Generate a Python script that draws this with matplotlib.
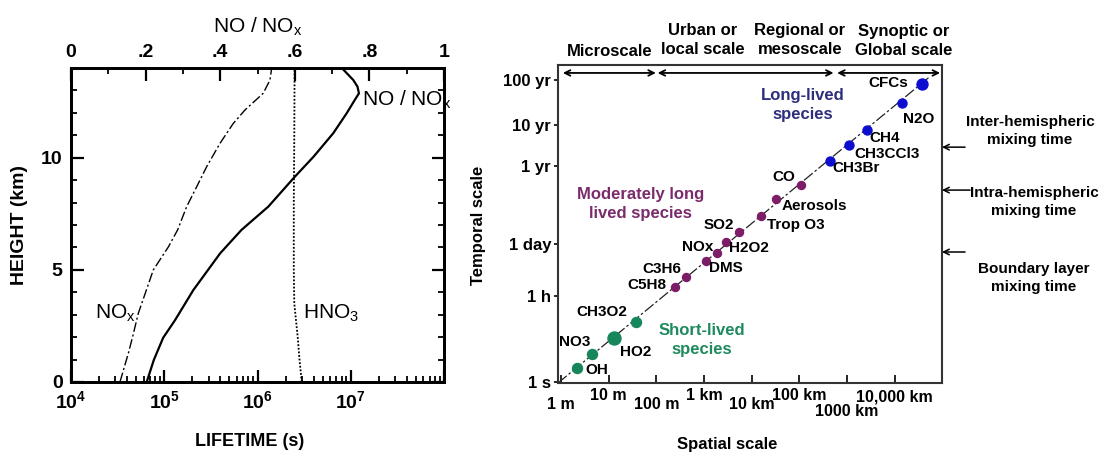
import numpy as np
import matplotlib
matplotlib.use('Agg')
import matplotlib.pyplot as plt
from matplotlib.ticker import FixedLocator, MultipleLocator, LogLocator, NullFormatter, NullLocator

plt.rcParams['font.family'] = ['Liberation Sans', 'DejaVu Sans']
plt.rcParams['font.weight'] = 'bold'
plt.rcParams['mathtext.default'] = 'regular'

# ---------------- left panel data ----------------
nox_height = [0, 1.28, 2.02, 3.06, 5.0, 6.03, 6.78, 7.82, 8.71, 9.6, 10.64, 11.53, 12.13, 12.87, 13.46, 14.0]
nox_lifetime = [3.35e4, 4.12e4, 4.58e4, 5.27e4, 7.64e4, 1.11e5, 1.39e5, 1.74e5, 2.23e5, 2.85e5,
                3.96e5, 5.50e5, 7.35e5, 1.15e6, 1.36e6, 1.42e6]
hno3_height = [0, 1.0, 2.0, 3.5, 5.0, 8.0, 11.0, 14.0]
hno3_lifetime = [2.98e6, 2.82e6, 2.70e6, 2.48e6, 2.45e6, 2.45e6, 2.48e6, 2.50e6]
ratio_height = [0, 0.98, 1.97, 2.76, 4.1, 5.74, 6.78, 7.82, 9.15, 10.04, 11.09, 11.98, 12.58, 12.87, 13.17, 13.46, 14.0]
no_ratio = [0.203, 0.222, 0.247, 0.279, 0.328, 0.40, 0.457, 0.529, 0.600, 0.65, 0.703, 0.739, 0.761,
            0.772, 0.768, 0.757, 0.726]

# ---------------- right panel data ----------------
species = ['OH', 'NO3', 'HO2', 'CH3O2', 'C5H8', 'C3H6', 'DMS', 'NOx', 'H2O2', 'SO2', 'Trop O3',
           'Aerosols', 'CO', 'CH3Br', 'CH3CCl3', 'CH4', 'N2O', 'CFCs']
spatial_m = [2.2, 4.4, 13, 37, 245, 430, 1.1e3, 1.9e3, 2.9e3, 5.4e3, 1.6e4,
             3.3e4, 1.07e5, 4.4e5, 1.1e6, 2.6e6, 1.45e7, 3.8e7]
lifetime_s = [3.7, 14, 64, 294, 6.1e3, 1.17e4, 3.05e4, 4.89e4, 9.8e4, 2.09e5, 7.2e5,
              2.7e6, 7.5e6, 4.27e7, 1.02e8, 2.45e8, 9.9e8, 2.57e9]
group = ['short'] * 4 + ['moderate'] * 9 + ['long'] * 5
marker_px = [10, 10, 13, 10] + [8] * 9 + [9, 9, 9, 9, 11]

time_ticks = [1, 3600, 86400, 3.156e7, 3.156e8, 3.156e9]
time_labels = ['1 s', '1 h', '1 day', '1 yr', '10 yr', '100 yr']
space_ticks = [1, 10, 100, 1e3, 1e4, 1e5, 1e6, 1e7]
space_labels = ['1 m', '10 m', '100 m', '1 km', '10 km', '100 km', '1000 km', '10,000 km']
scale_ranges = [(1.1, 98), (107, 5.2e5), (6.2e5, 8.9e7)]
scale_names = ['Microscale', 'Urban or\nlocal scale', 'Regional or\nmesoscale', 'Synoptic or\nGlobal scale']
mixing_names = ['Inter-hemispheric\nmixing time', 'Intra-hemispheric\nmixing time', 'Boundary layer\nmixing time']
mixing_s = [9.1e7, 5.1e6, 5.3e4]

colors = {'short': '#17865a', 'moderate': '#7d1d67', 'long': '#0d0dd0'}

W, H = 1101, 454
fig = plt.figure(figsize=(W / 100, H / 100), dpi=100)


def fx(px):
    return px / W


def fy(py):
    return 1 - py / H


# ================= left panel =================
ax = fig.add_axes([fx(71), fy(382), fx(444 - 71), (382 - 68) / H])
ax.set_xscale('log')
ax.set_xlim(1e4, 1e8)
ax.set_ylim(0, 14)
ax.plot(nox_lifetime, nox_height, color='black', lw=1.0, ls=(0, (7, 2, 1.5, 2)))
ax.plot(hno3_lifetime, hno3_height, color='black', lw=1.3, ls=(0, (1, 1)))

axt = ax.twiny()
axt.set_xlim(0, 1)
axt.plot(no_ratio, ratio_height, color='black', lw=1.6)

for a in (ax, axt):
    for s in a.spines.values():
        s.set_linewidth(2)

ax.xaxis.set_major_locator(FixedLocator([1e4, 1e5, 1e6, 1e7, 1e8]))
ax.set_xticklabels(['$10^{4}$', '$10^{5}$', '$10^{6}$', '$10^{7}$', ''])
ax.xaxis.set_minor_locator(LogLocator(base=10, subs=np.arange(2, 10)))
ax.xaxis.set_minor_formatter(NullFormatter())
ax.yaxis.set_major_locator(FixedLocator([0, 5, 10]))
ax.yaxis.set_minor_locator(MultipleLocator(1))
ax.tick_params(axis='both', which='major', direction='in', length=9, width=1.6, labelsize=14, pad=6)
ax.tick_params(axis='both', which='minor', direction='in', length=4, width=1.3)
ax.tick_params(axis='y', which='both', right=True)
ax.tick_params(axis='x', which='both', top=False)

axt.set_xticks(np.arange(0, 1.01, 0.2))
axt.set_xticklabels(['0', '.2', '.4', '.6', '.8', '1'])
axt.xaxis.set_minor_locator(MultipleLocator(0.1))
axt.tick_params(axis='x', which='major', direction='in', length=9, width=1.6, labelsize=14, pad=5)
axt.tick_params(axis='x', which='minor', direction='in', length=4, width=1.3)

axt.text(0.78, 12.57, 'NO / NO$_\\mathregular{x}$', fontsize=15, fontweight='normal', ha='left', va='center')
ax.text(10 ** 4.26, 3.08, 'NO$_\\mathregular{x}$', fontsize=15, fontweight='normal', ha='left', va='center')
ax.text(10 ** 6.49, 3.08, 'HNO$_\\mathregular{3}$', fontsize=15, fontweight='normal', ha='left', va='center')

fig.text(fx(258), fy(27), 'NO / NO$_\\mathregular{x}$', fontsize=15, fontweight='normal', ha='center', va='center')
fig.text(fx(250), fy(442), 'LIFETIME (s)', fontsize=13, ha='center', va='center')
fig.text(fx(20), fy(225), 'HEIGHT (km)', fontsize=14, ha='center', va='center', rotation=90)

# ================= right panel =================
ax2 = fig.add_axes([fx(558), fy(383), fx(942 - 558), (383 - 65) / H])

node_log = np.log10(time_ticks)
node_log = np.concatenate([[-2.0], node_log, [11.5]])
node_pos = np.array([-48, 0, 86, 138, 216, 257, 302, 392], dtype=float)


def t_forward(v):
    return np.interp(np.log10(np.clip(v, 1e-6, None)), node_log, node_pos)


def t_inverse(p):
    return 10 ** np.interp(p, node_pos, node_log)


ax2.set_yscale('function', functions=(t_forward, t_inverse))
ax2.set_xscale('log')
ax2.set_xlim(10 ** -0.06, 10 ** 7.99)
ax2.set_ylim(t_inverse(-1), t_inverse(317))

for s in ax2.spines.values():
    s.set_linewidth(1.5)
    s.set_color('#333333')

ax2.yaxis.set_major_locator(FixedLocator(time_ticks))
ax2.yaxis.set_minor_locator(NullLocator())
ax2.set_yticklabels(time_labels)
ax2.xaxis.set_major_locator(FixedLocator(space_ticks))
ax2.xaxis.set_minor_locator(NullLocator())
ax2.set_xticklabels([''] * len(space_ticks))
ax2.tick_params(axis='y', direction='out', length=3, width=1.2, labelsize=12, pad=2)
ax2.tick_params(axis='x', direction='in', length=6, width=1.2)

label_rows = [-0.069, -0.038, -0.069, -0.038, -0.069, -0.040, -0.091, -0.044]
xt = ax2.get_xaxis_transform()
for xv, lab, yr in zip(space_ticks, space_labels, label_rows):
    ax2.text(xv, yr, lab, transform=xt, ha='center', va='center', fontsize=11.5)

# diagonal guide
ax2.plot([0, 0.965], [0, 0.96], transform=ax2.transAxes, color='#222222', lw=0.9,
         ls=(0, (9, 2, 2, 2)), zorder=2)

for x, y, g, m in zip(spatial_m, lifetime_s, group, marker_px):
    ax2.plot(x, y, 'o', ms=m * 0.72, color=colors[g], mec=colors[g], zorder=3)

# point labels: (ha, dx px, dy px up)
label_place = [('left', 8, -2), ('center', -17, 12), ('center', 22, -14), ('center', -34, 10),
               ('right', -8, 2), ('center', -25, 8), ('center', 20, -7), ('center', -20, 6),
               ('center', 23, -6), ('center', -20, 7), ('left', 6, -9), ('left', 5, -7),
               ('center', -17, 8), ('left', 2, -7), ('left', 5, -9), ('left', 3, -8),
               ('center', 16, -16), ('right', -14, 1)]
for x, y, name, (ha, dx, dy) in zip(spatial_m, lifetime_s, species, label_place):
    ax2.annotate(name, (x, y), xytext=(dx, dy), textcoords='offset pixels',
                 ha=ha, va='center', fontsize=11, zorder=4)

ax2.text(0.638, 0.874, 'Long-lived\nspecies', transform=ax2.transAxes, ha='center', va='center',
         fontsize=12, color='#2e2e7e', linespacing=1.35)
ax2.text(0.214, 0.563, 'Moderately long\nlived species', transform=ax2.transAxes, ha='center',
         va='center', fontsize=12, color='#7a2b6c', linespacing=1.35)
ax2.text(0.375, 0.135, 'Short-lived\nspecies', transform=ax2.transAxes, ha='center', va='center',
         fontsize=12, color='#1f8a5e', linespacing=1.35)

# scale arrows along the top
for lo, hi in scale_ranges:
    ax2.annotate('', xy=(hi, 0.975), xytext=(lo, 0.975), xycoords=('data', 'axes fraction'),
                 arrowprops=dict(arrowstyle='<->', color='black', lw=1.3, shrinkA=0, shrinkB=0))
for name, (px, py) in zip(scale_names, [(610, 52), (703, 40), (800, 40), (904, 41)]):
    fig.text(fx(px), fy(py), name, ha='center', va='center', fontsize=12, linespacing=1.3)

# mixing time arrows on right
for yv, tail in zip(mixing_s, [1.06, 1.073, 1.06]):
    ax2.annotate('', xy=(1.0, yv), xytext=(tail, yv), xycoords=('axes fraction', 'data'),
                 arrowprops=dict(arrowstyle='->', color='black', lw=1.1, shrinkA=0, shrinkB=0))
for name, (px, py) in zip(mixing_names, [(1030, 131), (1034, 202), (1034, 278)]):
    fig.text(fx(px), fy(py), name, ha='center', va='center', fontsize=11, linespacing=1.3)

fig.text(fx(479), fy(225), 'Temporal scale', rotation=90, ha='center', va='center', fontsize=12)
fig.text(fx(727), fy(445), 'Spatial scale', ha='center', va='center', fontsize=12)

fig.savefig('out.png', dpi=100)
